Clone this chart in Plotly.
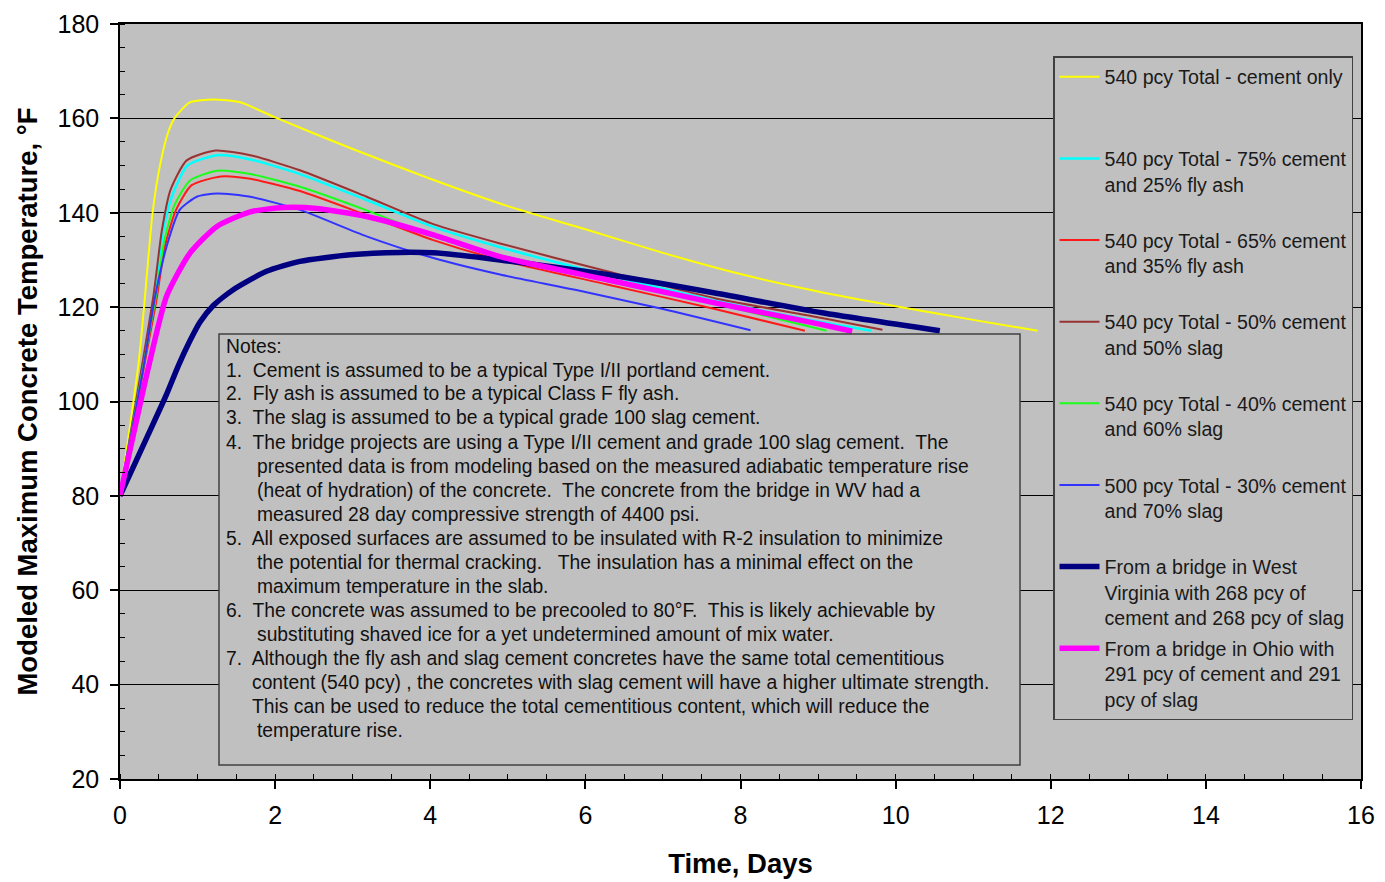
import plotly.graph_objects as go

# ---------------- data ----------------
names = [
    "540 pcy Total - cement only",
    "540 pcy Total - 75% cement<br>and 25% fly ash",
    "540 pcy Total - 65% cement<br>and 35% fly ash",
    "540 pcy Total - 50% cement<br>and 50% slag",
    "540 pcy Total - 40% cement<br>and 60% slag",
    "500 pcy Total - 30% cement<br>and 70% slag",
    "From a bridge in West<br>Virginia with 268 pcy of<br>cement and 268 pcy of slag",
    "From a bridge in Ohio with<br>291 pcy of cement and 291<br>pcy of slag",
]
colors = ["#FFFF00", "#00FFFF", "#FF1A1A", "#993333", "#1AFF1A", "#3333FF", "#000080", "#FF00FF"]
widths = [2, 2.5, 2, 2, 2, 2, 5.5, 5.5]

cement_days = [0, 0.24, 0.31, 0.42, 0.52, 0.62, 0.71, 0.90, 1.20, 1.55, 2.0, 3.0, 4.0, 5.0, 6.0, 7.0, 8.0, 9.0, 10.0, 11.0, 11.83]
cement_temp = [80, 108.2, 120, 140, 150.4, 157, 160.2, 163.4, 164.0, 163.4, 160.2, 153.5, 147.2, 141.4, 136.5, 131.5, 127.0, 123.3, 120.2, 117.3, 115.0]

fa25_days = [0, 0.44, 0.55, 0.67, 0.87, 1.25, 1.68, 2.32, 3.18, 4.04, 4.90, 6.28, 7.67, 9.05, 9.69]
fa25_temp = [80, 122, 135.5, 143.5, 150.0, 152.2, 151.3, 148.2, 142.7, 137.0, 132.7, 126.8, 121.4, 116.8, 115.0]

fa35_days = [0, 0.47, 0.58, 0.72, 0.92, 1.30, 1.68, 2.32, 3.18, 4.04, 4.90, 6.28, 7.67, 8.83]
fa35_temp = [80, 121.5, 133, 140.5, 145.8, 147.7, 147.2, 144.6, 139.5, 134.2, 130.0, 124.8, 119.6, 115.0]

sl50_days = [0, 0.43, 0.54, 0.65, 0.86, 1.23, 1.68, 2.32, 3.18, 4.04, 4.90, 6.28, 7.67, 9.05, 9.83]
sl50_temp = [80, 122.3, 136.3, 144.8, 151.1, 153.2, 152.2, 149.0, 143.4, 137.6, 133.5, 127.6, 121.9, 117.7, 115.2]

sl60_days = [0, 0.46, 0.57, 0.70, 0.90, 1.25, 1.68, 2.32, 3.18, 4.04, 4.90, 6.28, 7.67, 9.11]
sl60_temp = [80, 122, 134, 141.5, 146.8, 148.9, 148.2, 145.5, 140.5, 135.0, 131.0, 126.0, 120.8, 115.0]

sl70_days = [0, 0.30, 0.45, 0.60, 0.77, 0.99, 1.25, 1.68, 2.32, 3.18, 4.04, 4.90, 6.0, 7.0, 8.13]
sl70_temp = [80, 107, 122, 132.8, 140.6, 143.4, 144.1, 143.4, 140.6, 135.0, 130.4, 126.9, 123.2, 119.6, 115.1]

wv_days = [0, 0.35, 0.60, 0.75, 0.90, 1.03, 1.20, 1.46, 1.89, 2.32, 2.97, 3.61, 4.04, 4.90, 6.28, 7.67, 9.05, 10.57]
wv_temp = [80, 92.5, 101.5, 107.5, 112.8, 116.8, 120.3, 123.7, 127.6, 129.7, 131.1, 131.6, 131.5, 130.0, 126.9, 123.0, 118.8, 115.0]

oh_days = [0, 0.37, 0.60, 0.90, 1.25, 1.68, 2.11, 2.54, 3.18, 4.04, 4.90, 6.28, 7.67, 9.05, 9.44]
oh_temp = [80, 107.5, 122.3, 131.4, 137.1, 140.2, 141.1, 140.9, 139.2, 135.3, 130.7, 125.8, 120.9, 116.3, 114.9]

series_days = [cement_days, fa25_days, fa35_days, sl50_days, sl60_days, sl70_days, wv_days, oh_days]
series_temp = [cement_temp, fa25_temp, fa35_temp, sl50_temp, sl60_temp, sl70_temp, wv_temp, oh_temp]

x_ticks = [0, 2, 4, 6, 8, 10, 12, 14, 16]
y_ticks = [20, 40, 60, 80, 100, 120, 140, 160, 180]

notes_lines = [
    "Notes:",
    "1.  Cement is assumed to be a typical Type I/II portland cement.",
    "2.  Fly ash is assumed to be a typical Class F fly ash.",
    "3.  The slag is assumed to be a typical grade 100 slag cement.",
    "4.  The bridge projects are using a Type I/II cement and grade 100 slag cement.  The",
    "presented data is from modeling based on the measured adiabatic temperature rise",
    "(heat of hydration) of the concrete.  The concrete from the bridge in WV had a",
    "measured 28 day compressive strength of 4400 psi.",
    "5.  All exposed surfaces are assumed to be insulated with R-2 insulation to minimize",
    "the potential for thermal cracking.   The insulation has a minimal effect on the",
    "maximum temperature in the slab.",
    "6.  The concrete was assumed to be precooled to 80°F.  This is likely achievable by",
    "substituting shaved ice for a yet undetermined amount of mix water.",
    "7.  Although the fly ash and slag cement concretes have the same total cementitious",
    "content (540 pcy) , the concretes with slag cement will have a higher ultimate strength.",
    "This can be used to reduce the total cementitious content, which will reduce the",
    "temperature rise.",
]
# left edge (px, in the reference picture) of each notes line
notes_left = [224, 224, 224, 224, 224, 255, 255, 255, 224, 255, 255, 224, 255, 224, 250, 250, 255]

# ---------------- figure ----------------
FONT = "Arial, Liberation Sans, sans-serif"
fig = go.Figure()

for i, (nm, xs, ys) in enumerate(zip(names, series_days, series_temp)):
    n_lines = nm.count("<br>") + 1
    label = nm + "<br>\u00a0" * (3 - n_lines)
    fig.add_trace(go.Scatter(
        x=xs, y=ys, mode="lines", name=label,
        legendgroup="g%d" % i,
        line=dict(color=colors[i], width=widths[i], shape="spline", smoothing=0.6),
    ))

# page has an 8px body margin: build the figure 8px smaller and shift everything
OFF = 8
W, H = 1385 - OFF, 882 - OFF
ml, mt = 120 - OFF, 24 - OFF          # leave room for the "180" label inside the page
mr = 1385 - 1361
mb = H - (779 - OFF)
pw, ph = W - ml - mr, H - mt - mb

def px_x(p):
    return (p - OFF - ml) / pw

def px_y(p):
    return (H - mb - (p - OFF)) / ph

fig.update_layout(
    width=W, height=H,
    margin=dict(l=ml, r=mr, t=mt, b=mb, autoexpand=False),
    paper_bgcolor="white",
    plot_bgcolor="#C0C0C0",
    font=dict(family=FONT, color="black"),
    showlegend=True,
    legend=dict(
        x=px_x(1053), y=px_y(56), xanchor="left", yanchor="top",
        bgcolor="#C0C0C0", bordercolor="#404040", borderwidth=1.5,
        font=dict(family=FONT, size=19.6, color="#1a1a1a"),
        valign="top", tracegroupgap=2.2, itemwidth=40,
    ),
    xaxis=dict(
        range=[0, 16], tickvals=x_ticks, ticktext=[str(v) for v in x_ticks],
        showgrid=False, zeroline=False, automargin=False,
        showline=True, linecolor="black", linewidth=1.5, mirror=True,
        ticks="outside", ticklen=8, tickwidth=1.5, tickcolor="black",
        ticklabelstandoff=5, ticklabeloverflow="allow",
        tickfont=dict(size=25, family=FONT),
        minor=dict(dtick=0.5, ticks="inside", ticklen=5, tickwidth=1, tickcolor="black", showgrid=False),
        title=dict(text="<b>Time, Days</b>", font=dict(size=27.5, family=FONT), standoff=26),
    ),
    yaxis=dict(
        range=[20, 180], tickvals=y_ticks, ticktext=[str(v) for v in y_ticks],
        showgrid=True, gridcolor="black", gridwidth=1,
        zeroline=False, automargin=False,
        showline=True, linecolor="black", linewidth=1.5, mirror=True,
        ticks="outside", ticklen=8, tickwidth=1.5, tickcolor="black",
        ticklabelstandoff=6, ticklabeloverflow="allow",
        tickfont=dict(size=25, family=FONT),
        minor=dict(dtick=5, ticks="inside", ticklen=5, tickwidth=1, tickcolor="black", showgrid=False),
        title=dict(text="<b>Modeled Maximum Concrete Temperature, °F</b>", font=dict(size=27.5, family=FONT), standoff=12),
    ),
)

# notes box
fig.add_shape(type="rect", xref="paper", yref="paper",
              x0=px_x(219), x1=px_x(1020), y0=px_y(765), y1=px_y(334),
              fillcolor="#C0C0C0", line=dict(color="#404040", width=1.5), layer="above")

for k, (line, left) in enumerate(zip(notes_lines, notes_left)):
    fig.add_annotation(
        xref="paper", yref="paper", x=px_x(left), y=px_y(346 + 24 * k),
        xanchor="left", yanchor="middle", align="left", showarrow=False,
        text=line.replace("  ", "\u00a0 "), font=dict(family=FONT, size=19.3, color="#111111"),
    )

fig.write_html("out.html")
